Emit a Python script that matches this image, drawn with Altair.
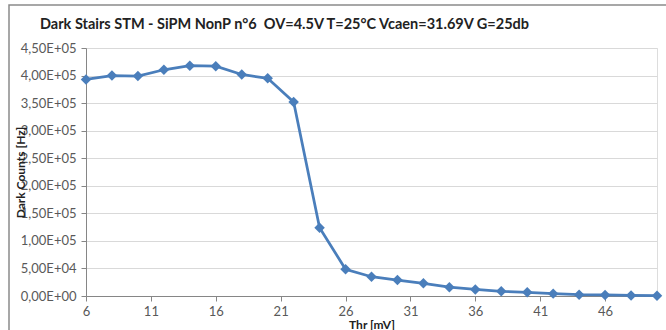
import altair as alt
import pandas as pd

thr = [6, 8, 10, 12, 14, 16, 18, 20, 22, 24, 26, 28, 30, 32, 34, 36, 38, 40, 42, 44, 46, 48, 50]
counts = [393000, 400000, 399000, 410500, 418000, 417000, 402000, 395000, 352000, 124000,
          48500, 35000, 29000, 23000, 16000, 12000, 8500, 6700, 4300, 2300, 2000, 1000, 500]
x_ticks = [6, 11, 16, 21, 26, 31, 36, 41, 46]
y_ticks = [0, 50000, 100000, 150000, 200000, 250000, 300000, 350000, 400000, 450000]

title_text = "Dark Stairs STM - SiPM NonP n°6\u00a0\u00a0OV=4.5V T=25°C Vcaen=31.69V G=25db"

df = pd.DataFrame({"thr": thr, "counts": counts})

FONT = "Lato"
BLUE = "#4A7EBB"

sci_expr = (
    "replace(format(datum.value / pow(10, datum.value == 0 ? 0 : floor(log(datum.value)/LN10 + 0.000001)), '.2f'), '.', ',')"
    " + 'E+' + ((datum.value == 0 ? 0 : floor(log(datum.value)/LN10 + 0.000001)) < 10 ? '0' : '')"
    " + (datum.value == 0 ? 0 : floor(log(datum.value)/LN10 + 0.000001))"
)

x_enc = alt.X(
    "thr:Q",
    scale=alt.Scale(domain=[6, 50], nice=False, zero=False),
    axis=alt.Axis(
        values=x_ticks, title="Thr [mV]", grid=False,
        domainColor="#868686", tickColor="#868686", tickSize=5,
        labelColor="#595959", labelFontSize=13, labelFont=FONT, labelPadding=4,
        labelFlush=False, labelOverlap=False,
        titleFont=FONT, titleFontSize=12, titleFontWeight="bold", titleColor="#222222",
        titleY=28, titleBaseline="middle",
    ),
)
y_enc = alt.Y(
    "counts:Q",
    scale=alt.Scale(domain=[0, 450000], nice=False),
    axis=alt.Axis(
        values=y_ticks, tickCount=10, title="Dark Counts [Hz]", labelExpr=sci_expr,
        grid=True, gridColor="#D9D9D9", gridWidth=1,
        domainColor="#868686", tickColor="#868686", tickSize=5,
        labelColor="#595959", labelFontSize=13, labelFont=FONT, labelPadding=5,
        labelFlush=False, labelOverlap=False,
        titleFont=FONT, titleFontSize=12, titleFontWeight="bold", titleColor="#222222",
        titleX=-66, titleY=124, titleAngle=270, titleAlign="center", titleBaseline="middle",
    ),
)

base = alt.Chart(df).encode(x=x_enc, y=y_enc)
line = base.mark_line(color=BLUE, strokeWidth=2.75)
pts = base.mark_point(shape="diamond", filled=True, color=BLUE, size=110, opacity=1)

border = alt.Chart(pd.DataFrame({"a": [0]})).mark_rect(
    fill=None, stroke="#8A8A8A", strokeWidth=1.5, clip=False
).encode(
    x=alt.value(-77), x2=alt.value(600), y=alt.value(-43), y2=alt.value(300)
)

chart = alt.layer(border, line, pts).properties(
    width=571,
    height=248,
    autosize=alt.AutoSizeParams(type="none"),
    padding={"left": 86, "top": 48, "right": 9, "bottom": 34},
    title=alt.TitleParams(
        text=title_text, anchor="start", frame="group", dx=-46, dy=28, offset=0,
        font=FONT, fontSize=14.5, fontWeight="bold", color="#222222",
    ),
).configure_view(stroke=None).configure(background="white")

chart.save("out.html", embed_options={"renderer": "svg", "actions": False})
